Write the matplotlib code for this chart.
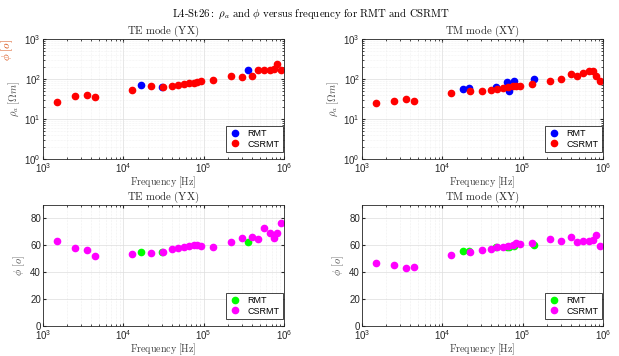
import matplotlib.pyplot as plt
import numpy as np

plt.rcParams['mathtext.fontset'] = 'cm'
plt.rcParams['font.family'] = ['Liberation Sans', 'DejaVu Sans']

# CSRMT frequencies (shared by both modes)
f_cs = [1.5e3, 2.5e3, 3.5e3, 4.5e3, 1.3e4, 2.2e4, 3.1e4, 4.0e4, 4.8e4, 5.7e4,
        6.6e4, 7.5e4, 8.3e4, 9.2e4, 1.3e5, 2.2e5, 3.0e5, 4.0e5, 4.8e5, 5.7e5,
        6.6e5, 7.5e5, 8.3e5, 9.3e5]

# TE mode (YX)
te_rho_cs = [26, 37, 40, 36, 53, 67, 64, 67, 69, 76, 79, 80, 84, 87, 94, 117,
             110, 121, 165, 168, 168, 181, 233, 165]
te_phi_cs = [63, 58, 56.5, 51.8, 53.8, 54.5, 55.2, 57.5, 58, 58.8, 59.5, 60,
             60.5, 59.2, 58.5, 62.8, 65.2, 66.5, 64.5, 73, 69.5, 65.2, 69.2, 76.7]
f_rmt_te = [1.65e4, 3.0e4, 3.57e5]
te_rho_rmt = [70, 62, 166]
te_phi_rmt = [54.8, 54.8, 62.6]

# TM mode (XY)
tm_rho_cs = [24.6, 28, 31, 29, 45, 51, 51, 54, 57, 58, 62, 67, 67, 68, 76, 89,
             100, 133, 119, 141, 162, 162, 117, 91]
tm_phi_cs = [47, 45.2, 43.5, 44.2, 53, 54.8, 56.5, 57.5, 58.5, 58.8, 59.5, 60.5,
             61.5, 61, 62, 64.5, 63.2, 66.2, 62.2, 63.5, 63.5, 64, 68, 59.8]
f_rmt_tm = [1.8e4, 2.15e4, 4.6e4, 6.4e4, 6.8e4, 7.8e4, 1.38e5]
tm_rho_rmt = [57, 59, 62, 83, 50, 87, 102]
tm_phi_rmt = [56, 56, 58.5, 58.8, 58.5, 59.8, 60.5]

fig = plt.figure(figsize=(6.19, 3.56), dpi=100)
W, H = 619, 356


def make_ax(x0, y0, x1, y1):
    return fig.add_axes([x0 / W, 1 - y1 / H, (x1 - x0) / W, (y1 - y0) / H])


def style(ax, title):
    ax.set_xscale('log')
    ax.set_xlim(1e3, 1e6)
    ax.set_title(r'$\mathrm{' + title.replace(' ', r'\ ') + '}$', fontsize=7.8, pad=2.5,
                 color='#262626')
    ax.set_xlabel(r'$\mathrm{Frequency\ [Hz]}$', fontsize=7.2, color='#404040', labelpad=0)
    ax.tick_params(which='both', direction='in', labelsize=7, colors='#262626',
                   length=2.5, top=True, right=True, pad=1.5)
    ax.tick_params(which='minor', length=1.5)
    for s in ax.spines.values():
        s.set_color('#262626')
        s.set_linewidth(0.6)
    ax.set_axisbelow(True)


def add_legend(ax):
    leg = ax.legend(loc='lower right', bbox_to_anchor=(0.995, 0.06), fontsize=6.5,
                    frameon=True, fancybox=False, framealpha=1, edgecolor='#262626',
                    handletextpad=0.6, borderpad=0.35, labelspacing=0.2,
                    handlelength=1.5, borderaxespad=0)
    leg.get_frame().set_linewidth(0.6)


ax1 = make_ax(43, 39, 284, 159)
ax2 = make_ax(362, 39, 603, 159)
ax3 = make_ax(43, 205, 284, 326)
ax4 = make_ax(362, 205, 603, 326)

ms = 4.5
for ax, f_r, rho_r, rho_c, title in [(ax1, f_rmt_te, te_rho_rmt, te_rho_cs, 'TE mode (YX)'),
                                     (ax2, f_rmt_tm, tm_rho_rmt, tm_rho_cs, 'TM mode (XY)')]:
    style(ax, title)
    ax.set_yscale('log')
    ax.set_ylim(1, 1e3)
    ax.plot(f_r, rho_r, 'o', color='blue', ms=ms, label='RMT')
    ax.plot(f_cs, rho_c, 'o', color='red', ms=ms, label='CSRMT')
    ax.grid(which='major', color='#dddddd', lw=0.5)
    ax.grid(which='minor', color='#e6e6e6', lw=0.4, ls=':')
    ax.set_ylabel(r'$\rho_a\ [\Omega m]$', fontsize=7.5, color='#505050', labelpad=2)
    add_legend(ax)

for ax, f_r, phi_r, phi_c, title in [(ax3, f_rmt_te, te_phi_rmt, te_phi_cs, 'TE mode (YX)'),
                                     (ax4, f_rmt_tm, tm_phi_rmt, tm_phi_cs, 'TM mode (XY)')]:
    style(ax, title)
    ax.set_ylim(0, 90)
    ax.set_yticks([0, 20, 40, 60, 80])
    ax.plot(f_r, phi_r, 'o', color='#00ff00', ms=ms, label='RMT')
    ax.plot(f_cs, phi_c, 'o', color='magenta', ms=ms, label='CSRMT')
    ax.grid(which='major', color='#dddddd', lw=0.5)
    ax.grid(which='minor', axis='x', color='#e0e0e0', lw=0.4, ls=':')
    ax.set_ylabel(r'$\phi\ [o]$', fontsize=7.5, color='#505050', labelpad=2)
    add_legend(ax)

fig.text(311 / W, 1 - 14 / H,
         r'$\mathrm{L4\text{-}St26{:}}\ \rho_a\ \mathrm{and}\ \phi\ \mathrm{versus\ frequency\ for\ RMT\ and\ CSRMT}$',
         ha='center', va='center', fontsize=7.8)
fig.text(7 / W, 1 - 50 / H, r'$\phi\ [o]$', rotation=90, ha='center', va='center',
         fontsize=8, color='#d95319')

fig.savefig('out.png', dpi=100)
